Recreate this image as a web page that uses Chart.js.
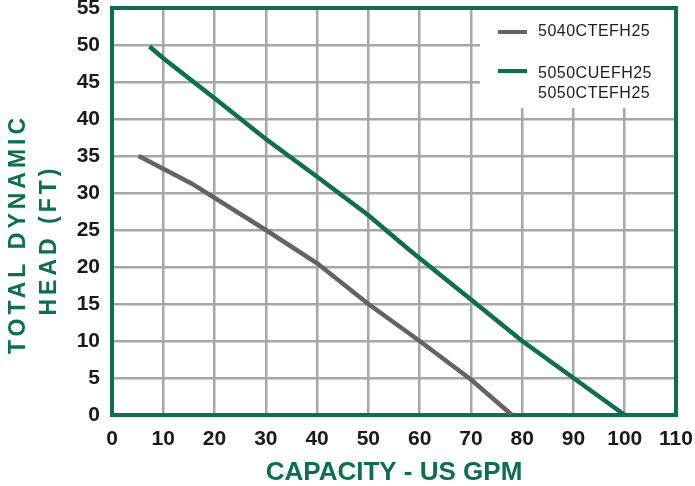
<!DOCTYPE html>
<html>
<head>
<meta charset="utf-8">
<title>Pump curve</title>
<script src="https://cdn.jsdelivr.net/npm/chart.js@4.4.1/dist/chart.umd.min.js"></script>
<style>
  html, body { margin: 0; padding: 0; background: #fff; }
  #wrap { width: 695px; height: 486px; }
</style>
</head>
<body>
<div id="wrap"><canvas id="curves" width="695" height="486"></canvas></div>
<script>
// capacity (US GPM) and total dynamic head (ft)
const greyFlow = [5.2, 15.5, 30, 40, 50, 60, 70, 78];
const greyHead = [35, 31.3, 25, 20.5, 15, 10, 4.8, 0];
const greenFlow = [7.3, 10, 20, 30, 40, 50, 58, 70, 80, 90, 100];
const greenHead = [49.8, 48.2, 42.8, 37.3, 32.2, 27, 22.3, 15.6, 10, 5, 0];

const legendLines = [['5040CTEFH25'], ['5050CUEFH25', '5050CTEFH25']];
const xTitle = 'CAPACITY - US GPM';
const yTitle = ['TOTAL DYNAMIC', 'HEAD (FT)'];

const GREEN = '#0c6f50';
const GREY = '#636363';
const GRID = '#a7a7a7';

const toPoints = (xs, ys) => xs.map((x, i) => ({x: x, y: ys[i]}));

// frame, legend box and rotated y title
const decor = {
  id: 'decor',
  beforeDatasetsDraw(chart) {
    const {ctx, chartArea: a} = chart;
    ctx.save();

    // legend sits on a white patch over the grid
    const lx = a.right - 200;
    ctx.fillStyle = '#fff';
    ctx.fillRect(lx + 4, a.top, a.right - lx - 4, 100);

    let y = a.top + 24;
    chart.data.datasets.forEach((ds, i) => {
      ctx.strokeStyle = ds.borderColor;
      ctx.lineWidth = 4;
      ctx.beginPath();
      ctx.moveTo(lx + 22, y);
      ctx.lineTo(lx + 51, y);
      ctx.stroke();
      ctx.fillStyle = '#1e1e1e';
      ctx.font = '16px Arial, "Liberation Sans", sans-serif';
      ctx.letterSpacing = '0.5px';
      ctx.textBaseline = 'middle';
      legendLines[i].forEach((t, j) => {
        ctx.fillText(t, lx + 62, y + (i ? 3 : 0) + j * 20);
      });
      y += 39;
    });

    ctx.strokeStyle = GREEN;
    ctx.lineWidth = 4;
    ctx.strokeRect(a.left, a.top, a.right - a.left, a.bottom - a.top);

    // y axis title, two lines, spaced caps
    ctx.fillStyle = GREEN;
    ctx.font = 'bold 23px Arial, "Liberation Sans", sans-serif';
    ctx.letterSpacing = '4px';
    ctx.textAlign = 'center';
    ctx.textBaseline = 'middle';
    [[19, 234], [50, 240]].forEach((p, i) => {
      ctx.save();
      ctx.translate(p[0], p[1]);
      ctx.rotate(-Math.PI / 2);
      ctx.fillText(yTitle[i], 0, 0);
      ctx.restore();
    });
    ctx.restore();
  }
};

const tickFont = {family: 'Arial, "Liberation Sans", sans-serif', size: 21, weight: 'bold'};

new Chart(document.getElementById('curves'), {
  type: 'line',
  data: {
    datasets: [
      {
        label: legendLines[0].join(' '),
        data: toPoints(greyFlow, greyHead),
        borderColor: GREY,
        borderWidth: 4.5,
        pointRadius: 0,
        tension: 0
      },
      {
        label: legendLines[1].join(' '),
        data: toPoints(greenFlow, greenHead),
        borderColor: GREEN,
        borderWidth: 4.5,
        pointRadius: 0,
        tension: 0
      }
    ]
  },
  options: {
    responsive: false,
    animation: false,
    layout: {padding: {top: 8, right: 19, left: 0, bottom: 0}},
    plugins: {legend: {display: false}, tooltip: {enabled: false}},
    scales: {
      x: {
        type: 'linear',
        min: 0,
        max: 110,
        ticks: {stepSize: 10, autoSkip: false, maxRotation: 0, color: '#1a1a1a', font: tickFont, padding: 12},
        grid: {color: GRID, lineWidth: 2.5, drawTicks: false},
        border: {display: false},
        title: {
          display: true,
          text: xTitle,
          color: GREEN,
          font: {family: 'Arial, "Liberation Sans", sans-serif', size: 26, weight: 'bold', lineHeight: 1},
          padding: {top: 0, bottom: 0}
        },
        afterFit(scale) {
          scale.height = 71;
          scale.paddingLeft = 0;
          scale.paddingRight = 0;
        }
      },
      y: {
        min: 0,
        max: 55,
        ticks: {stepSize: 5, color: '#1a1a1a', font: tickFont, padding: 12},
        grid: {color: GRID, lineWidth: 2.5, drawTicks: false},
        border: {display: false},
        afterFit(scale) {
          scale.width = 112;
          scale.paddingTop = 0;
          scale.paddingBottom = 0;
        }
      }
    }
  },
  plugins: [decor]
});
</script>
</body>
</html>
